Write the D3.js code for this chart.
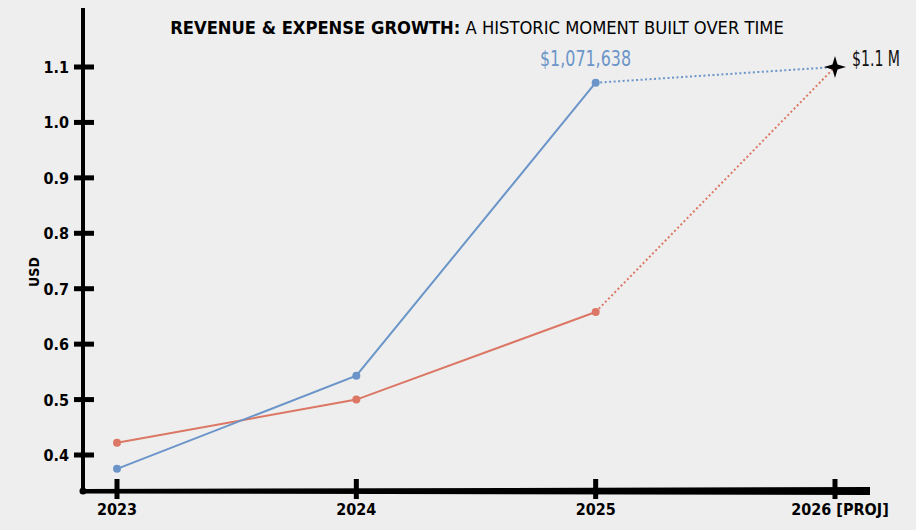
<!DOCTYPE html>
<html>
<head>
<meta charset="utf-8">
<script src="https://cdn.jsdelivr.net/npm/d3@7"></script>
<style>
  body { margin: 0; background: #eeeeee; }
  svg { display: block; font-family: "Liberation Sans Narrow", "DejaVu Sans Condensed", sans-serif; }
</style>
</head>
<body>
<div id="chart"></div>
<script>
// Chart data
var years = ["2023", "2024", "2025", "2026 [PROJ]"];
var revenue = [0.375, 0.543, 1.0716];
var expense = [0.422, 0.500, 0.658];
var projection = 1.1;
var yTicks = [0.4, 0.5, 0.6, 0.7, 0.8, 0.9, 1.0, 1.1];

function init() {
    var w = 916;
    var h = 530;

    var svg = d3.select("#chart")
        .append("svg")
        .attr("width", w)
        .attr("height", h);

    svg.append("rect").attr("width", w).attr("height", h).attr("fill", "#eeeeee");

    // scales
    var xScale = d3.scalePoint()
        .domain(years)
        .range([117, 835]);

    var yScale = d3.scaleLinear()
        .domain([0.4, 1.1])
        .range([455, 67]);

    var x0 = 83, y0 = 491;

    // y axis line
    svg.append("line")
        .attr("x1", x0).attr("x2", x0)
        .attr("y1", 8).attr("y2", y0)
        .attr("stroke", "#000").attr("stroke-width", 4);

    // x axis line, gets thicker towards the right
    svg.append("path")
        .attr("d", "M" + x0 + "," + (y0 - 2) + " L870," + (y0 - 4) + " L870," + (y0 + 4) + " L" + x0 + "," + (y0 + 2.5) + "Z")
        .attr("fill", "#000");
    svg.append("circle").attr("cx", x0).attr("cy", y0).attr("r", 3.5).attr("fill", "#000");

    // y ticks
    var yAxis = svg.append("g");
    yAxis.selectAll("line")
        .data(yTicks)
        .enter()
        .append("line")
        .attr("x1", x0 - 9).attr("x2", x0 + 11)
        .attr("y1", function(d) { return yScale(d); })
        .attr("y2", function(d) { return yScale(d); })
        .attr("stroke", "#000").attr("stroke-width", 5);
    yAxis.selectAll("text")
        .data(yTicks)
        .enter()
        .append("text")
        .attr("x", 69)
        .attr("y", function(d) { return yScale(d) + 6; })
        .attr("text-anchor", "end")
        .attr("font-size", 16)
        .attr("font-weight", "bold")
        .text(function(d) { return d3.format(".1f")(d); });

    // x ticks
    var xAxis = svg.append("g");
    xAxis.selectAll("line")
        .data(years)
        .enter()
        .append("line")
        .attr("x1", function(d) { return xScale(d); })
        .attr("x2", function(d) { return xScale(d); })
        .attr("y1", 479).attr("y2", 499)
        .attr("stroke", "#000").attr("stroke-width", 5);
    xAxis.selectAll("text")
        .data(years)
        .enter()
        .append("text")
        .attr("x", function(d, i) { return xScale(d) + (i == 3 ? 5 : 0); })
        .attr("y", 515)
        .attr("text-anchor", "middle")
        .attr("font-size", 16)
        .attr("font-weight", "bold")
        .text(function(d) { return d; });

    // y label
    svg.append("text")
        .attr("transform", "translate(39,272) rotate(-90)")
        .attr("text-anchor", "middle")
        .attr("font-size", 14)
        .attr("font-weight", "bold")
        .text("USD");

    // title: bold part then regular part
    var title = svg.append("text")
        .attr("x", 477).attr("y", 34)
        .attr("text-anchor", "middle")
        .attr("font-size", 18.2);
    title.append("tspan").attr("font-weight", "bold").text("REVENUE & EXPENSE GROWTH:");
    title.append("tspan").text(" A HISTORIC MOMENT BUILT OVER TIME");

    var blue = "#6b95c9";
    var red = "#db7764";

    var line = d3.line()
        .x(function(d, i) { return xScale(years[i]); })
        .y(function(d) { return yScale(d); });

    function drawSeries(vals, color) {
        svg.append("path")
            .datum(vals)
            .attr("d", line)
            .attr("fill", "none")
            .attr("stroke", color)
            .attr("stroke-width", 2);
        // dotted projection
        var last = vals.length - 1;
        svg.append("line")
            .attr("x1", xScale(years[last])).attr("y1", yScale(vals[last]))
            .attr("x2", xScale(years[3])).attr("y2", yScale(projection))
            .attr("stroke", color)
            .attr("stroke-width", 2)
            .attr("stroke-dasharray", "2,2.5");
        svg.selectAll(null)
            .data(vals)
            .enter()
            .append("circle")
            .attr("cx", function(d, i) { return xScale(years[i]); })
            .attr("cy", function(d) { return yScale(d); })
            .attr("r", 4)
            .attr("fill", color);
    }

    drawSeries(expense, red);
    drawSeries(revenue, blue);

    // star marker at projection
    var sx = xScale(years[3]), sy = yScale(projection);
    var R = 11, r = 3.6;
    var pts = [];
    for (var k = 0; k < 8; k++) {
        var a = k * Math.PI / 4;
        var rad = k % 2 == 0 ? R : r;
        pts.push([Math.sin(a) * rad, -Math.cos(a) * rad]);
    }
    svg.append("path")
        .attr("transform", "translate(" + sx + "," + sy + ")")
        .attr("d", "M" + pts.join("L") + "Z")
        .attr("fill", "#000");

    // labels
    svg.append("text")
        .attr("x", 540).attr("y", 66)
        .attr("font-size", 21)
        .attr("fill", blue)
        .attr("textLength", 91)
        .attr("lengthAdjust", "spacingAndGlyphs")
        .text("$" + d3.format(",")(1071638));

    svg.append("text")
        .attr("x", 852).attr("y", 66)
        .attr("font-size", 21)
        .attr("fill", "#111")
        .attr("textLength", 48)
        .attr("lengthAdjust", "spacingAndGlyphs")
        .text("$1.1 M");
}

window.onload = init;
</script>
</body>
</html>
